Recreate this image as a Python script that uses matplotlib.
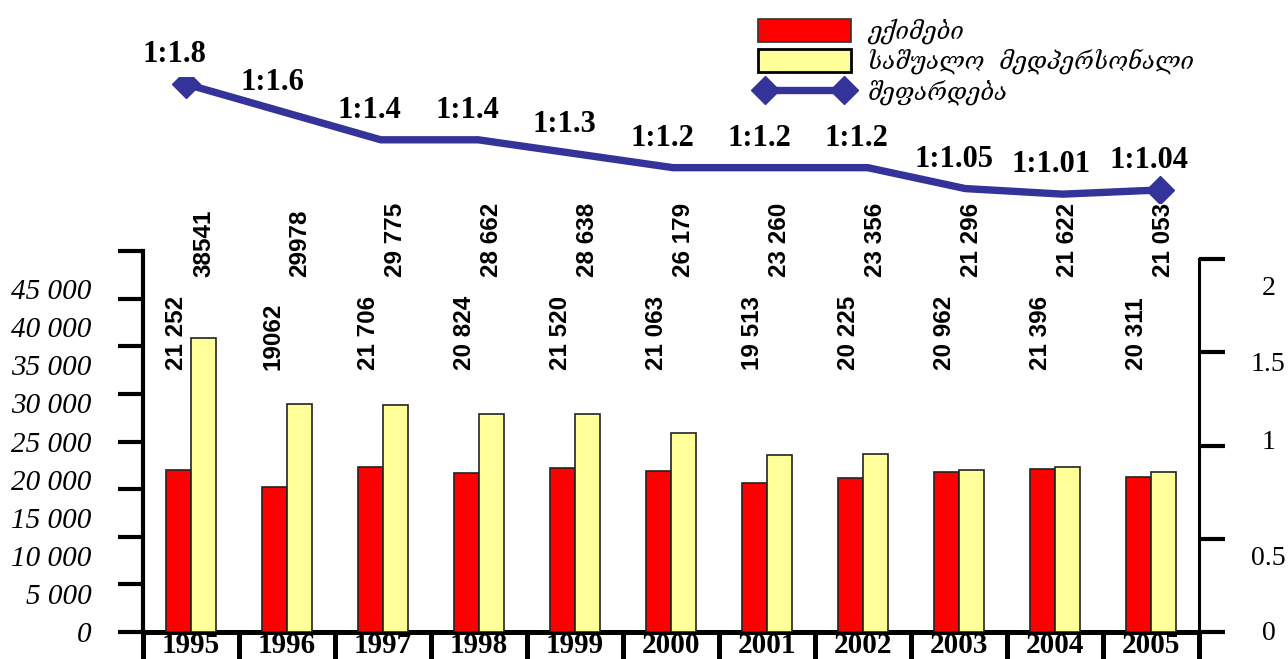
import numpy as np
import matplotlib
matplotlib.use("Agg")
import matplotlib.pyplot as plt
import matplotlib.transforms as mtransforms
from matplotlib.patches import Patch
from matplotlib.lines import Line2D
from matplotlib.ticker import FixedLocator, FixedFormatter, NullFormatter
from matplotlib.font_manager import FontProperties

# წლები და მონაცემები
years = ['1995', '1996', '1997', '1998', '1999', '2000',
         '2001', '2002', '2003', '2004', '2005']
doctors = [21252, 19062, 21706, 20824, 21520, 21063, 19513, 20225, 20962, 21396, 20311]
nurses = [38541, 29978, 29775, 28662, 28638, 26179, 23260, 23356, 21296, 21622, 21053]
doctor_labels = ['21 252', '19062', '21 706', '20 824', '21 520', '21 063',
                 '19 513', '20 225', '20 962', '21 396', '20 311']
nurse_labels = ['38541', '29978', '29 775', '28 662', '28 638', '26 179',
                '23 260', '23 356', '21 296', '21 622', '21 053']
ratio = [1.8, 1.6, 1.4, 1.4, 1.3, 1.2, 1.2, 1.2, 1.05, 1.01, 1.04]

left_ticklabels = ['0', '5 000', '10 000', '15 000', '20 000', '25 000',
                   '30 000', '35 000', '40 000', '45 000']
right_ticklabels = ['0', '0.5', '1', '1.5', '2']

RED = '#ff0000'
YELLOW = '#ffff99'
BLUE = '#333399'
NARROW = ['Liberation Sans Narrow', 'Liberation Sans', 'DejaVu Sans']
SERIF = ['Liberation Serif', 'DejaVu Serif']

W, H = 1288, 659
fig = plt.figure(figsize=(W / 100, H / 100), dpi=100)

# ძირითადი ღერძი - სვეტები
ax = fig.add_axes([143 / W, 27 / H, 1056 / W, 381 / H])
x = np.arange(len(years))
bw = 0.26
ax.bar(x - bw / 2, doctors, bw, color=RED, edgecolor='#222222', linewidth=1.2, zorder=3)
ax.bar(x + bw / 2, nurses, bw, color=YELLOW, edgecolor='#222222', linewidth=1.2, zorder=3)
ax.set_xlim(-0.5, len(years) - 0.5)
ax.set_ylim(0, 50000)

for s in ['top', 'right']:
    ax.spines[s].set_visible(False)
ax.spines['left'].set_linewidth(3)
ax.spines['bottom'].set_linewidth(3.6)

# მარცხენა ღერძი
ax.yaxis.remove_overlapping_locs = False
ax.yaxis.set_major_locator(FixedLocator(np.linspace(0, 50000, 9)))
ax.yaxis.set_major_formatter(NullFormatter())
ax.yaxis.set_minor_locator(FixedLocator(np.arange(0, 45001, 5000)))
ax.yaxis.set_minor_formatter(FixedFormatter(left_ticklabels))
ax.tick_params(axis='y', which='major', direction='out', length=18, width=3, color='black')
ax.tick_params(axis='y', which='minor', length=0, pad=37, labelsize=21)
for lab in ax.get_yticklabels(minor=True):
    lab.set_family(SERIF)
    lab.set_fontstyle('italic')

# ქვედა ღერძი - წლების უჯრები
ax.xaxis.set_major_locator(FixedLocator(np.arange(-0.5, len(years), 1.0)))
ax.xaxis.set_major_formatter(NullFormatter())
ax.xaxis.set_minor_locator(FixedLocator(x))
ax.xaxis.set_minor_formatter(FixedFormatter(years))
ax.tick_params(axis='x', which='major', direction='out', length=24, width=3.6, color='black')
ax.tick_params(axis='x', which='minor', length=0, pad=0, labelsize=21)
for lab in ax.get_xticklabels(minor=True):
    lab.set_family(SERIF)
    lab.set_fontweight('bold')

# მარჯვენა ღერძი
ax2 = ax.twinx()
ax2.set_ylim(0, 2 * 381 / 373)
for s in ['top', 'left', 'bottom']:
    ax2.spines[s].set_visible(False)
ax2.spines['right'].set_bounds(0, 2)
ax2.spines['right'].set_linewidth(2.2)
ax2.yaxis.remove_overlapping_locs = False
ax2.yaxis.set_major_locator(FixedLocator(np.arange(0, 2.01, 0.5)))
ax2.yaxis.set_major_formatter(NullFormatter())
ax2.yaxis.set_minor_locator(FixedLocator([0.01, 0.41, 1.03, 1.45, 1.86]))
ax2.yaxis.set_minor_formatter(FixedFormatter(right_ticklabels))
ax2.tick_params(axis='y', which='major', direction='out', length=19, width=3, color='black')
ax2.tick_params(axis='y', which='minor', length=0, pad=50, labelsize=20)
for lab in ax2.get_yticklabels(minor=True):
    lab.set_family(SERIF)
    lab.set_horizontalalignment('center')

# რიცხვითი წარწერები სვეტების თავზე
trans = mtransforms.blended_transform_factory(ax.transData, ax.transAxes)
for xi, dl, nl in zip(x, doctor_labels, nurse_labels):
    ax.text(xi - bw / 2 - 0.02, 0.688, dl, rotation=90, ha='center', va='bottom',
            fontsize=17.5, fontweight='bold', family=NARROW, transform=trans, clip_on=False)
    ax.text(xi + bw / 2, 0.932, nl, rotation=90, ha='center', va='bottom',
            fontsize=17.5, fontweight='bold', family=NARROW, transform=trans, clip_on=False)

# შეფარდების ხაზი
lax = fig.add_axes([137.3 / W, 456.5 / H, 1071.4 / W, 125.4 / H])
lax.plot(x, ratio, color=BLUE, lw=5.3, marker='D', markevery=[0, len(x) - 1],
         ms=14, solid_joinstyle='miter')
lax.set_xlim(-0.5, len(years) - 0.5)
lax.set_ylim(0.95, 1.85)
lax.axis('off')
for xi, r in zip(x, ratio):
    lax.annotate(f'1:{r:g}', (xi, r), xytext=(-8, 21), textcoords='offset points',
                 ha='center', va='center', fontsize=22, fontweight='bold', family=SERIF,
                 annotation_clip=False)

# ლეგენდა
handles = [
    Patch(facecolor=RED, edgecolor='#333333', linewidth=1.2),
    Patch(facecolor=YELLOW, edgecolor='black', linewidth=2),
    Line2D([], [], color=BLUE, lw=5.3, marker='D', ms=14),
]
labels = ['ექიმები', 'საშუალო  მედპერსონალი', 'შეფარდება']
fig.legend(handles, labels, loc='upper left', bbox_to_anchor=(758 / W, 1 - 18 / H),
           frameon=False, numpoints=2, handlelength=3.95, handleheight=1.12,
           handletextpad=0.7, labelspacing=0.22, borderpad=0, borderaxespad=0,
           prop=FontProperties(family=['DejaVu Serif', 'DejaVu Sans'], style='italic', size=17))

fig.savefig('out.png', dpi=100)
